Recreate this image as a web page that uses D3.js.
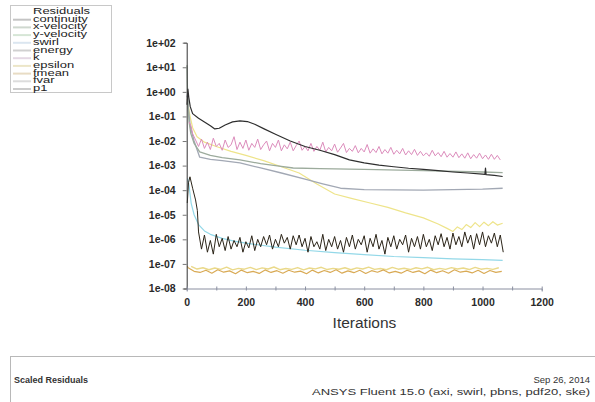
<!DOCTYPE html>
<html>
<head>
<meta charset="utf-8">
<script src="https://cdn.jsdelivr.net/npm/d3@7"></script>
<style>
  body { margin: 0; background: #fff; }
  svg { display: block; font-family: "Liberation Sans", Arial, sans-serif; }
</style>
</head>
<body>
<svg id="chart" width="595" height="402"></svg>
<script>
// legend entries
const legendTitle = "Residuals";
const legendNames = ["continuity", "x-velocity", "y-velocity", "swirl", "energy", "k", "epsilon", "fmean", "fvar", "p1"];
const legendColors = ["#c4c4c4", "#cfd8cf", "#d6e6d6", "#dbe6f0", "#d0d0d0", "#e4d8e4", "#ece6c8", "#e8dcc4", "#dcdcdc", "#cccccc"];

const xTicks = [0, 200, 400, 600, 800, 1000, 1200];
const yTickLabels = ["1e+02", "1e+01", "1e+00", "1e-01", "1e-02", "1e-03", "1e-04", "1e-05", "1e-06", "1e-07", "1e-08"];

// smooth residuals [iteration, value]
const continuity = [[1,0.3],[4,1.3],[7,0.6],[12,0.25],[20,0.13],[40,0.085],[60,0.06],[80,0.042],[95,0.031],[110,0.033],[130,0.045],[155,0.06],[180,0.066],[205,0.062],[230,0.048],[260,0.032],[300,0.019],[350,0.01],[400,0.006],[450,0.0042],[500,0.0028],[550,0.0017],[600,0.0013],[650,0.00105],[700,0.0009],[750,0.00078],[800,0.0007],[850,0.00062],[900,0.00055],[950,0.0005],[1000,0.00045],[1008,0.00044],[1010,0.0008],[1012,0.00043],[1040,0.0004],[1068,0.00036]];
const yVelocity = [[1,12],[2,2.5],[4,0.3],[8,0.06],[14,0.02],[25,0.008],[44,0.0036],[80,0.0026],[120,0.0021],[180,0.0017],[250,0.0012],[300,0.001],[360,0.0008],[450,0.00075],[600,0.0007],[800,0.00062],[1000,0.00055],[1068,0.00052]];
const xVelocity = [[1,0.6],[3,0.9],[6,0.2],[12,0.04],[25,0.01],[44,0.0022],[80,0.0018],[120,0.0016],[180,0.0013],[250,0.0008],[320,0.0005],[400,0.00028],[460,0.00018],[520,0.00012],[600,0.000105],[800,0.0001],[1000,0.00011],[1068,0.00012]];
const epsilon = [[2,0.5],[5,0.3],[10,0.12],[20,0.035],[35,0.015],[60,0.009],[100,0.006],[150,0.0038],[200,0.0026],[260,0.0016],[320,0.0009],[380,0.0005],[440,0.00018],[500,0.00007],[560,0.000045],[620,0.00003],[680,0.00002],[740,0.000012],[800,0.0000075],[850,0.0000042],[880,0.0000028],[900,0.0000021],[915,0.0000032],[930,0.0000025],[945,0.000004],[960,0.000003],[975,0.0000048],[990,0.0000033],[1005,0.000005],[1020,0.0000036],[1035,0.0000052],[1050,0.0000038],[1068,0.0000045]];
const swirl = [[3,0.0003],[8,0.00015],[15,0.00003],[25,0.00001],[40,0.000004],[60,0.0000022],[80,0.0000016],[120,0.0000011],[160,0.00000085],[200,0.0000007],[300,0.00000048],[400,0.00000036],[500,0.00000029],[600,0.00000024],[700,0.0000002],[800,0.00000018],[900,0.00000016],[1000,0.00000015],[1068,0.00000014]];

// noisy residuals: head points, then values every `step` iterations
const kHead = [[8,0.06],[15,0.04]];
const kValues = [0.02,0.011,0.006,0.012,0.005,0.009,0.0045,0.013,0.006,0.008,0.0042,0.011,0.0055,0.007,0.015,0.0045,0.009,0.005,0.011,0.0042,0.008,0.0055,0.012,0.0045,0.007,0.01,0.004,0.008,0.0055,0.011,0.004,0.007,0.0048,0.009,0.004,0.0065,0.01,0.0042,0.006,0.004,0.008,0.0038,0.006,0.0042,0.009,0.0036,0.0055,0.004,0.0075,0.0035,0.0052,0.008,0.0034,0.005,0.0038,0.0065,0.0033,0.005,0.0036,0.0072,0.0032,0.0048,0.0034,0.006,0.003,0.0045,0.0032,0.0055,0.0029,0.0042,0.003,0.005,0.0027,0.004,0.0028,0.0046,0.0026,0.0038,0.0025,0.0033,0.0024,0.0042,0.0025,0.0034,0.0023,0.0038,0.0022,0.0031,0.0022,0.0036,0.0021,0.003,0.002,0.0033,0.0019,0.0028,0.002,0.0032,0.0019,0.0027,0.0018,0.0029,0.0018,0.0026,0.0017];
const energyHead = [[2,0.00003],[6,0.0002],[11,0.00035],[20,0.00012],[30,0.00004],[36,0.000015]];
const energyValues = [2e-6,4e-7,1.5e-6,3e-7,9e-7,2.5e-7,1.6e-6,5e-7,1.1e-6,3.5e-7,1.3e-6,4e-7,9e-7,5e-7,1.2e-6,3e-7,8e-7,4.5e-7,1.4e-6,3.5e-7,1e-6,5e-7,1.3e-6,6e-7,1.5e-6,4e-7,1e-6,5e-7,1.6e-6,7e-7,1.2e-6,4e-7,1.4e-6,6e-7,1.5e-6,5e-7,1.1e-6,3e-7,1.3e-6,5e-7,8e-7,4e-7,1.6e-6,3.5e-7,1e-6,5e-7,1.3e-6,4e-7,9e-7,3e-7,1.2e-6,5e-7,1.5e-6,4e-7,1e-6,6e-7,1.4e-6,3e-7,1.1e-6,5e-7,1.6e-6,4e-7,9e-7,2.5e-7,1.2e-6,5e-7,1.4e-6,4e-7,1e-6,6e-7,1.5e-6,3e-7,1.1e-6,5e-7,1.3e-6,4e-7,1.6e-6,5e-7,1e-6,3.5e-7,1.4e-6,6e-7,1.7e-6,5e-7,1.2e-6,4e-7,1.8e-6,6e-7,1.3e-6,5e-7,2e-6,7e-7,1.5e-6,4e-7,1.7e-6,6e-7,2e-6,5e-7,1.4e-6,7e-7,1.8e-6,5e-7,1.5e-6,3e-7];
const fmeanValues = [7e-8,5e-8,4.5e-8,5.5e-8,4.2e-8,5.8e-8,4.6e-8,5.2e-8,4e-8,5.6e-8,4.4e-8,5e-8,4.1e-8,5.7e-8,4.5e-8,5.3e-8,4.2e-8,5.5e-8,4.6e-8,5.1e-8,4e-8,5.6e-8,4.3e-8,5.4e-8,4.5e-8,5.8e-8,4.2e-8,5.2e-8,4.4e-8,5.5e-8,4.1e-8,5.3e-8,4.6e-8,5.7e-8,4.3e-8,5e-8,4.2e-8,5.5e-8,4.5e-8,5.2e-8,4e-8,5.6e-8,4.4e-8,5.3e-8,4.2e-8,5.8e-8,4.6e-8,5.1e-8,4.3e-8,5.5e-8,4.1e-8,5.4e-8,4.5e-8,5e-8];
const fvarValues = [8e-8,6.2e-8,7e-8,5.8e-8,6.8e-8,6e-8,7.4e-8,5.7e-8,6.6e-8,6.1e-8,7.2e-8,5.9e-8,6.9e-8,6.2e-8,7.5e-8,5.8e-8,6.5e-8,6e-8,7.1e-8,5.7e-8,6.8e-8,6.3e-8,7.3e-8,5.9e-8,6.6e-8,6.1e-8,7e-8,5.8e-8,6.9e-8,6.2e-8,7.4e-8,6e-8,6.5e-8,5.8e-8,7.2e-8,6.1e-8,6.7e-8,5.9e-8,7e-8,6.3e-8,7.3e-8,5.8e-8,6.6e-8,6e-8,7.1e-8,6.2e-8,6.8e-8,5.9e-8,7.2e-8,6.1e-8,6.6e-8,6e-8,7e-8];

const stepped = (head, start, step, values) =>
  head.concat(values.map((v, i) => [start + i * step, v]));

const series = [
  { data: stepped([], 15, 20, fvarValues), color: "#ead98a", width: 1.4 },
  { data: stepped([[2, 8e-8]], 5, 20, fmeanValues), color: "#d9aa55", width: 1.2 },
  { data: swirl, color: "#93d8e8", width: 1.2 },
  { data: stepped(energyHead, 40, 10, energyValues), color: "#2b2418", width: 1 },
  { data: epsilon, color: "#eee48a", width: 1.2 },
  { data: xVelocity, color: "#a2a8b4", width: 1.3 },
  { data: yVelocity, color: "#9cab9c", width: 1.3 },
  { data: stepped(kHead, 20, 10, kValues), color: "#dc8cbc", width: 1 },
  { data: continuity, color: "#2e2e2e", width: 1.2 }
];

const svg = d3.select("#chart");

const x = d3.scaleLinear().domain([0, 1200]).range([186.7, 541.7]);
const y = d3.scaleLog().domain([1e-8, 1e2]).range([288.5, 42.7]);

// series lines
const line = d3.line().x(d => x(d[0])).y(d => y(d[1]));
series.forEach(s => {
  svg.append("path")
    .datum(s.data)
    .attr("fill", "none")
    .attr("stroke", s.color)
    .attr("stroke-width", s.width)
    .attr("stroke-linejoin", "round")
    .attr("d", line);
});

const isDecade = d => Math.abs(Math.log10(d) - Math.round(Math.log10(d))) < 1e-9;

// y axis
const yAxis = d3.axisLeft(y)
  .tickValues(y.ticks())
  .tickSize(3)
  .tickFormat(d => (isDecade(d) ? yTickLabels[2 - Math.round(Math.log10(d))] : ""));
const gy = svg.append("g").attr("transform", "translate(186.7,0)").call(yAxis);
gy.selectAll(".tick line")
  .attr("x2", d => (isDecade(d) ? -4 : -2))
  .attr("stroke", "#777");
gy.select(".domain").attr("stroke", "#333");
gy.selectAll("text").attr("x", -11)
  .style("font-size", "10.5px").style("font-weight", "bold").attr("fill", "#2a2a2a");

// x axis
const xAxis = d3.axisBottom(x)
  .tickValues(d3.range(0, 1201, 100))
  .tickSize(3)
  .tickFormat(d => (xTicks.includes(d) ? d : ""));
const gx = svg.append("g").attr("transform", "translate(0,288.5)").call(xAxis);
gx.select(".domain").attr("stroke", "#8a8fa0");
gx.selectAll(".tick line").attr("stroke", "#8a8fa0").attr("y1", -2).attr("y2", 2);
gx.selectAll("text").attr("y", 10)
  .style("font-size", "10.5px").style("font-weight", "bold").attr("fill", "#2a2a2a");

svg.append("text")
  .attr("x", 364.5).attr("y", 328)
  .attr("text-anchor", "middle")
  .style("font-size", "15.5px")
  .attr("fill", "#333")
  .text("Iterations");

// legend
svg.append("rect")
  .attr("x", 10.5).attr("y", 5.5).attr("width", 101).attr("height", 87)
  .attr("fill", "#fff").attr("stroke", "#c8c8c8");
const legendRows = [legendTitle].concat(legendNames);
legendRows.forEach((name, i) => {
  const by = 14 + i * 7.7;
  if (i > 0) {
    svg.append("line")
      .attr("x1", 13).attr("x2", 31)
      .attr("y1", by - 2).attr("y2", by - 2)
      .attr("stroke", legendColors[i - 1])
      .attr("stroke-width", 2);
  }
  svg.append("text")
    .attr("transform", `translate(33,${by}) scale(1,0.72)`)
    .style("font-size", "13px")
    .attr("fill", "#222")
    .text(name);
});

// footer
svg.append("line").attr("x1", 10).attr("x2", 595).attr("y1", 356.5).attr("y2", 356.5).attr("stroke", "#b8b8b8");
svg.append("line").attr("x1", 10.5).attr("x2", 10.5).attr("y1", 356).attr("y2", 402).attr("stroke", "#b8b8b8");
svg.append("text").attr("x", 14).attr("y", 383)
  .style("font-size", "9px").style("font-weight", "bold").attr("fill", "#333")
  .text("Scaled Residuals");
svg.append("text").attr("x", 590).attr("y", 383).attr("text-anchor", "end")
  .style("font-size", "9.5px").attr("fill", "#333")
  .text("Sep 26, 2014");
svg.append("text").attr("x", 590).attr("y", 395).attr("text-anchor", "end")
  .style("font-size", "9.5px").attr("fill", "#333")
  .attr("textLength", 278).attr("lengthAdjust", "spacingAndGlyphs")
  .text("ANSYS Fluent 15.0 (axi, swirl, pbns, pdf20, ske)");
</script>
</body>
</html>
